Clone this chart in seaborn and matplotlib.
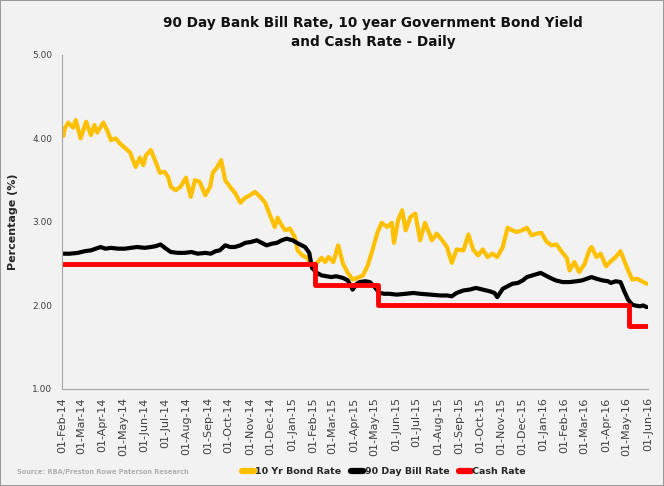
import numpy as np
import pandas as pd
import matplotlib
matplotlib.use("Agg")
import matplotlib.pyplot as plt
import matplotlib.dates as mdates
from matplotlib.lines import Line2D
import seaborn as sns

# 10 year government bond yield
bond_dates = [
    "2014-02-03", "2014-02-05", "2014-02-10", "2014-02-17", "2014-02-21", "2014-02-28",
    "2014-03-08", "2014-03-15", "2014-03-20", "2014-03-24", "2014-04-02", "2014-04-09",
    "2014-04-13", "2014-04-20", "2014-04-26", "2014-05-03", "2014-05-11", "2014-05-15",
    "2014-05-19", "2014-05-25", "2014-05-30", "2014-06-03", "2014-06-10", "2014-06-16",
    "2014-06-23", "2014-06-30", "2014-07-05", "2014-07-09", "2014-07-16", "2014-07-23",
    "2014-07-31", "2014-08-07", "2014-08-13", "2014-08-20", "2014-08-28", "2014-09-04",
    "2014-09-08", "2014-09-14", "2014-09-20", "2014-09-26", "2014-10-03", "2014-10-10",
    "2014-10-18", "2014-10-25", "2014-11-01", "2014-11-08", "2014-11-16", "2014-11-23",
    "2014-11-30", "2014-12-07", "2014-12-11", "2014-12-17", "2014-12-22", "2014-12-29",
    "2015-01-05", "2015-01-09", "2015-01-16", "2015-01-23", "2015-02-02", "2015-02-06",
    "2015-02-13", "2015-02-18", "2015-02-23", "2015-03-02", "2015-03-09", "2015-03-16",
    "2015-03-23", "2015-03-30", "2015-04-06", "2015-04-14", "2015-04-21", "2015-04-28",
    "2015-05-05", "2015-05-11", "2015-05-19", "2015-05-26", "2015-05-29", "2015-06-04",
    "2015-06-10", "2015-06-15", "2015-06-22", "2015-06-29", "2015-07-06", "2015-07-13",
    "2015-07-20", "2015-07-23", "2015-07-30", "2015-08-07", "2015-08-14", "2015-08-21",
    "2015-08-28", "2015-09-07", "2015-09-14", "2015-09-21", "2015-09-28", "2015-10-05",
    "2015-10-12", "2015-10-19", "2015-10-26", "2015-11-03", "2015-11-10", "2015-11-17",
    "2015-11-23", "2015-12-01", "2015-12-08", "2015-12-15", "2015-12-22", "2015-12-29",
    "2016-01-06", "2016-01-13", "2016-01-20", "2016-01-27", "2016-02-04", "2016-02-08",
    "2016-02-15", "2016-02-22", "2016-03-01", "2016-03-08", "2016-03-11", "2016-03-18",
    "2016-03-24", "2016-04-01", "2016-04-08", "2016-04-15", "2016-04-22", "2016-05-02",
    "2016-05-09", "2016-05-16", "2016-05-23", "2016-05-30",
]
bond_rate = [
    4.03, 4.12, 4.19, 4.13, 4.22, 4.00,
    4.20, 4.04, 4.16, 4.07, 4.19, 4.07,
    3.98, 4.00, 3.94, 3.89, 3.83, 3.74,
    3.66, 3.77, 3.68, 3.80, 3.86, 3.74,
    3.59, 3.60, 3.54, 3.42, 3.38, 3.42,
    3.53, 3.30, 3.50, 3.48, 3.32, 3.42,
    3.59, 3.65, 3.74, 3.50, 3.42, 3.35,
    3.23, 3.29, 3.32, 3.36, 3.30, 3.23,
    3.08, 2.94, 3.05, 2.96, 2.90, 2.92,
    2.82, 2.66, 2.60, 2.57, 2.45, 2.51,
    2.57, 2.52, 2.58, 2.52, 2.72, 2.50,
    2.39, 2.31, 2.33, 2.36, 2.48, 2.67,
    2.87, 2.99, 2.94, 2.99, 2.75, 3.02,
    3.14, 2.90, 3.06, 3.10, 2.78, 2.99,
    2.85, 2.78, 2.86, 2.78, 2.70, 2.51,
    2.67, 2.66, 2.85, 2.67, 2.60, 2.67,
    2.58, 2.62, 2.58, 2.70, 2.93, 2.90,
    2.88, 2.90, 2.93, 2.84, 2.86, 2.87,
    2.76, 2.72, 2.73, 2.65, 2.57, 2.42,
    2.52, 2.40, 2.50, 2.67, 2.70, 2.58,
    2.62, 2.47, 2.53, 2.58, 2.65, 2.44,
    2.31, 2.32, 2.29, 2.26,
]

# 90 day bank bill rate
bill_dates = [
    "2014-02-03", "2014-02-12", "2014-02-24", "2014-03-06", "2014-03-15", "2014-03-22",
    "2014-03-29", "2014-04-05", "2014-04-13", "2014-04-23", "2014-05-03", "2014-05-12",
    "2014-05-21", "2014-06-01", "2014-06-10", "2014-06-17", "2014-06-24", "2014-07-02",
    "2014-07-09", "2014-07-19", "2014-07-29", "2014-08-08", "2014-08-17", "2014-08-28",
    "2014-09-05", "2014-09-12", "2014-09-18", "2014-09-26", "2014-10-03", "2014-10-10",
    "2014-10-18", "2014-10-25", "2014-11-02", "2014-11-11", "2014-11-18", "2014-11-25",
    "2014-12-03", "2014-12-10", "2014-12-17", "2014-12-24", "2015-01-02", "2015-01-08",
    "2015-01-15", "2015-01-20", "2015-01-26", "2015-01-30", "2015-02-06", "2015-02-13",
    "2015-02-20", "2015-02-27", "2015-03-06", "2015-03-16", "2015-03-23", "2015-03-30",
    "2015-04-05", "2015-04-09", "2015-04-17", "2015-04-24", "2015-05-01", "2015-05-08",
    "2015-05-15", "2015-05-22", "2015-06-02", "2015-06-15", "2015-06-26", "2015-07-06",
    "2015-07-21", "2015-08-04", "2015-08-14", "2015-08-21", "2015-08-28", "2015-09-07",
    "2015-09-16", "2015-09-25", "2015-10-05", "2015-10-15", "2015-10-22", "2015-10-26",
    "2015-11-03", "2015-11-10", "2015-11-17", "2015-11-25", "2015-12-02", "2015-12-08",
    "2015-12-16", "2015-12-28", "2016-01-04", "2016-01-11", "2016-01-19", "2016-01-29",
    "2016-02-08", "2016-02-18", "2016-02-26", "2016-03-04", "2016-03-11", "2016-03-18",
    "2016-03-27", "2016-04-04", "2016-04-08", "2016-04-15", "2016-04-22", "2016-04-28",
    "2016-05-03", "2016-05-09", "2016-05-13", "2016-05-20", "2016-05-25", "2016-05-30",
]
bill_rate = [
    2.62, 2.62, 2.63, 2.65, 2.66, 2.68,
    2.70, 2.68, 2.69, 2.68, 2.68, 2.69,
    2.70, 2.69, 2.70, 2.71, 2.73, 2.68,
    2.64, 2.63, 2.63, 2.64, 2.62, 2.63,
    2.62, 2.65, 2.66, 2.72, 2.70, 2.70,
    2.72, 2.75, 2.76, 2.78, 2.75, 2.72,
    2.74, 2.75, 2.78, 2.80, 2.78, 2.75,
    2.72, 2.70, 2.63, 2.45, 2.39, 2.36,
    2.35, 2.34, 2.35, 2.33, 2.30, 2.19,
    2.26, 2.28, 2.29, 2.28, 2.22, 2.15,
    2.14, 2.14, 2.13, 2.14, 2.15, 2.14,
    2.13, 2.12, 2.12, 2.11, 2.15, 2.18,
    2.19, 2.21, 2.19, 2.17, 2.15, 2.10,
    2.20, 2.23, 2.26, 2.27, 2.30, 2.34,
    2.36, 2.39, 2.36, 2.33, 2.30, 2.28,
    2.28, 2.29, 2.30, 2.32, 2.34, 2.32,
    2.30, 2.29, 2.27, 2.29, 2.28, 2.16,
    2.07, 2.01, 2.00, 1.99, 2.00, 1.98,
]

# RBA cash rate (step changes)
cash_dates = ["2014-02-03", "2015-02-04", "2015-05-06", "2016-05-04", "2016-05-30"]
cash_rate = [2.50, 2.25, 2.00, 1.75, 1.75]

series_names = ["10 Yr Bond Rate", "90 Day Bill Rate", "Cash Rate"]
series_colors = ["#ffc000", "#000000", "#ff0000"]

BG = "#f2f2f2"
AXIS = "#a6a6a6"
TICK_TXT = "#404040"

sns.set_style("white")
plt.rcParams["font.family"] = ["DejaVu Sans"]

fig = plt.figure(figsize=(6.64, 4.86), dpi=100, facecolor=BG)
fig.patch.set_edgecolor("#999999")
fig.patch.set_linewidth(1.2)
ax = fig.add_axes([0.0934, 0.1996, 0.8826, 0.6874])
ax.set_facecolor(BG)

bond = pd.DataFrame({"date": pd.to_datetime(bond_dates), "rate": bond_rate})
bill = pd.DataFrame({"date": pd.to_datetime(bill_dates), "rate": bill_rate})
cash = pd.DataFrame({"date": pd.to_datetime(cash_dates), "rate": cash_rate})

sns.lineplot(data=bond, x="date", y="rate", ax=ax, color=series_colors[0], lw=3.0,
             solid_joinstyle="round")
sns.lineplot(data=bill, x="date", y="rate", ax=ax, color=series_colors[1], lw=3.0,
             solid_joinstyle="round")
sns.lineplot(data=cash, x="date", y="rate", ax=ax, color=series_colors[2], lw=3.5,
             drawstyle="steps-post")

ax.set_xlim(pd.Timestamp("2014-02-01"), pd.Timestamp("2016-06-01"))
ax.set_ylim(1.0, 5.0)
ax.set_yticks([1, 2, 3, 4, 5])
ax.yaxis.set_major_formatter(plt.FormatStrFormatter("%.2f"))
ax.xaxis.set_major_locator(mdates.MonthLocator(bymonthday=1))
ax.xaxis.set_major_formatter(mdates.DateFormatter("%d-%b-%y"))

for side in ("top", "right"):
    ax.spines[side].set_visible(False)
for side in ("left", "bottom"):
    ax.spines[side].set_color(AXIS)
    ax.spines[side].set_linewidth(0.8)

ax.tick_params(axis="x", direction="out", length=4, width=0.8, color=AXIS,
               labelsize=8, labelcolor=TICK_TXT, labelrotation=90, pad=2)
ax.tick_params(axis="y", direction="out", length=4, width=0.8, color=AXIS,
               labelsize=6.5, labelcolor=TICK_TXT, pad=3)
ax.set_xlabel("")
ax.set_ylabel("Percentage (%)", fontsize=8, fontweight="bold", color="#262626", labelpad=10)

fig.text(0.562, 0.934, "90 Day Bank Bill Rate, 10 year Government Bond Yield\nand Cash Rate - Daily",
         ha="center", va="center", fontsize=9.8, fontweight="bold", linespacing=1.45,
         color="#111111")

handles = [Line2D([0], [0], color=c, lw=4.5, solid_capstyle="round") for c in series_colors]
fig.legend(handles, series_names, loc="center", bbox_to_anchor=(0.578, 0.029), ncol=3,
           frameon=False, handlelength=1.3, handletextpad=0.15, columnspacing=1.0,
           prop={"size": 6.8, "weight": "bold"})

fig.text(0.026, 0.029, "Source: RBA/Preston Rowe Paterson Research", ha="left", va="center",
         fontsize=4.8, fontweight="bold", color="#b0b0b0")

fig.savefig("out.png", dpi=100, facecolor=BG, edgecolor=fig.get_edgecolor())
